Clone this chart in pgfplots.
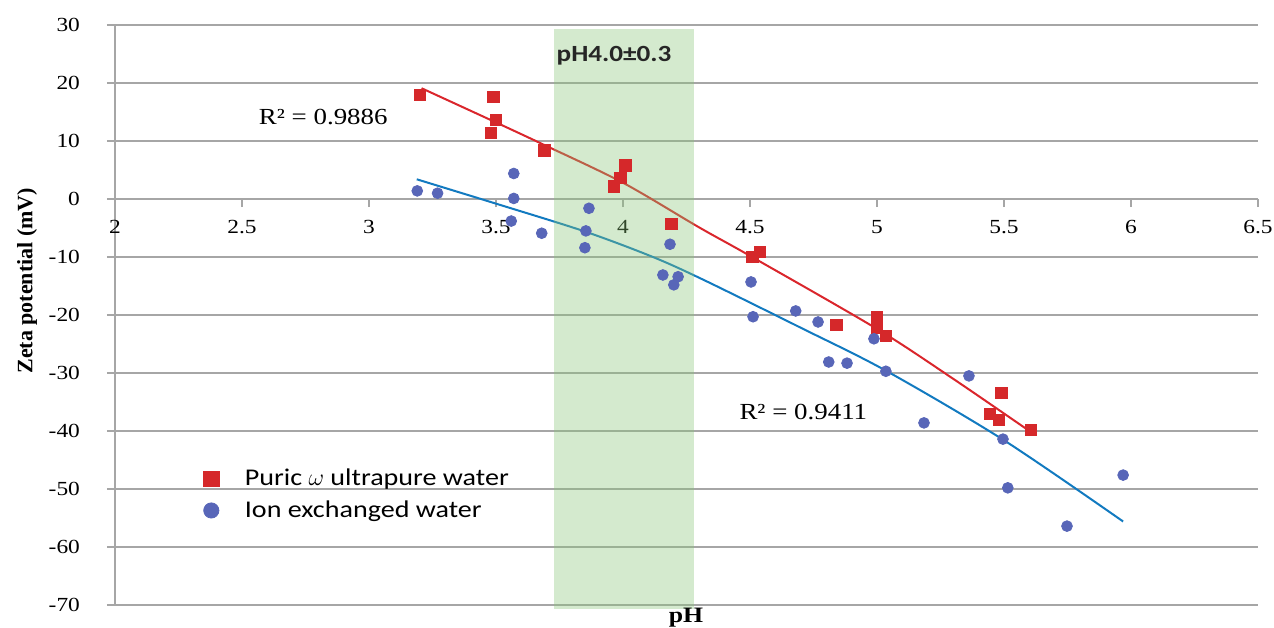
\documentclass[border=0pt]{standalone}
\usepackage{fontspec}
\setmainfont{Liberation Serif}[FakeStretch=1.17]
\newfontfamily\serifns{Liberation Serif}
\newfontfamily\carlito{Carlito}[FakeStretch=1.17]
\usepackage{pgfplots}
\pgfplotsset{compat=1.18}

\definecolor{pred}{RGB}{213,40,42}
\definecolor{pblue}{RGB}{88,102,184}
\definecolor{lred}{RGB}{218,38,44}
\definecolor{lblue}{RGB}{18,122,192}
\definecolor{band}{RGB}{136,197,119}
\definecolor{gridgray}{RGB}{166,166,166}

\begin{document}
\begin{tikzpicture}
\begin{axis}[
    scale only axis,
    width=571.5pt, height=290pt,
    xmin=2, xmax=6.5,
    ymin=-70, ymax=30,
    xtick={2,2.5,3,3.5,4,4.5,5,5.5,6,6.5},
    ytick={-70,-60,-50,-40,-30,-20,-10,0,10,20,30},
    axis x line=middle,
    axis y line=left,
    hide obscured x ticks=false,
    hide obscured y ticks=false,
    axis line style={-, draw=gridgray, line width=0.9pt},
    tick style={draw=gridgray, line width=0.9pt},
    tick align=outside,
    major tick length=4pt,
    ymajorgrids,
    grid style={gridgray, line width=0.9pt},
    clip=false,
    /pgf/number format/assume math mode=true,
    tick label style={font=\fontsize{10}{12}\selectfont},
    yticklabel style={xshift=-10pt},
    xticklabel style={yshift=-3pt},
    xlabel={\textbf{pH}},
    xlabel style={at={(axis description cs:0.4996,-0.021)}, anchor=center,
        font=\fontsize{11}{13}\selectfont},
    ylabel={\serifns\bfseries Zeta potential (mV)},
    ylabel style={at={(axis description cs:-0.077,0.559)}, anchor=center,
        font=\fontsize{11}{13}\selectfont},
    legend style={
        at={(axis description cs:0.072,0.249)}, anchor=north west,
        draw=none, fill=none,
        font=\carlito\fontsize{12}{13.5}\selectfont,
        row sep=2pt, column sep=11pt,
    },
    legend image post style={mark size=3.8pt},
    legend cell align=left,
]
    % Puric omega ultrapure water
    \addplot[only marks, mark=square*, mark size=2.85pt, color=pred] coordinates {
        (3.20,18.0) (3.49,17.6) (3.50,13.6) (3.48,11.4) (3.69,8.4)
        (4.01,5.8) (3.99,3.6) (3.965,2.2) (4.19,-4.3)
        (4.51,-10.0) (4.54,-9.1) (4.84,-21.7)
        (5.00,-20.4) (5.00,-22.2) (5.035,-23.6)
        (5.49,-33.4) (5.445,-37.1) (5.48,-38.1) (5.606,-39.8)
    };
    \addlegendentry{Puric $\omega$ ultrapure water}
    % Ion exchanged water
    \addplot[only marks, mark=*, mark size=2.7pt, color=pblue] coordinates {
        (3.19,1.4) (3.27,1.0) (3.57,4.4) (3.57,0.1) (3.56,-3.8) (3.68,-5.9)
        (3.866,-1.6) (3.854,-5.5) (3.85,-8.4)
        (4.185,-7.8) (4.157,-13.1) (4.217,-13.4) (4.20,-14.8)
        (4.504,-14.3) (4.512,-20.3) (4.68,-19.3) (4.768,-21.2)
        (4.81,-28.1) (4.882,-28.3) (4.988,-24.1) (5.035,-29.7)
        (5.185,-38.6) (5.362,-30.5) (5.496,-41.4) (5.515,-49.8)
        (5.748,-56.4) (5.969,-47.6)
    };
    \addlegendentry{Ion exchanged water}
    % trend lines
    \addplot[forget plot, lred, line width=1pt, smooth, no marks] coordinates {
        (3.207,19.1) (3.5,13.2) (3.686,9.4) (4.0,2.8) (4.3,-4.9)
        (4.5,-9.8) (5.0,-22.4) (5.3,-31.0) (5.59,-39.7)
    };
    \addplot[forget plot, lblue, line width=1pt, smooth, no marks] coordinates {
        (3.188,3.4) (3.5,-0.8) (3.85,-5.6) (4.118,-10.0) (4.32,-14.0)
        (4.7,-22.2) (5.035,-29.6) (5.5,-41.6) (5.969,-55.6)
    };
    % pH 4.0 band
    \addplot[forget plot, fill=band, fill opacity=0.36, draw=none] coordinates {
        (3.73,-70.7) (4.28,-70.7) (4.28,29.3) (3.73,29.3)
    } -- cycle;
    \node[font=\fontsize{11.5}{13}\selectfont] at (axis cs:2.82,14.1) {R² = 0.9886};
    \node[font=\fontsize{11.5}{13}\selectfont] at (axis cs:4.71,-36.7) {R² = 0.9411};
    \node[font=\carlito\bfseries\fontsize{11.6}{13}\selectfont, text=black!85] at (axis cs:3.965,24.7) {pH4.0±0.3};
\end{axis}
\pgfresetboundingbox
\path ([shift={(-57.5pt,-11pt)}]current axis.south west)
    rectangle ([shift={(579.5pt,302.5pt)}]current axis.south west);
\end{tikzpicture}
\end{document}
